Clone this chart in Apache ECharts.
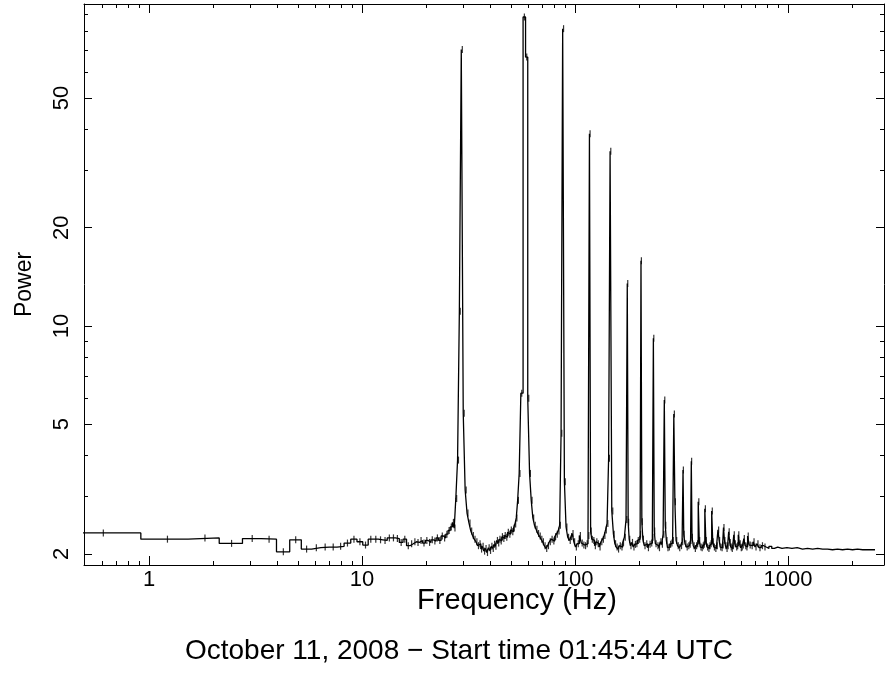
<!DOCTYPE html>
<html>
<head>
<meta charset="utf-8">
<title>Power spectrum</title>
<script src="https://cdn.jsdelivr.net/npm/echarts@6/dist/echarts.min.js"></script>
<style>
  html, body { margin: 0; padding: 0; background: #fff; }
  #chart { width: 887px; height: 675px; }
</style>
</head>
<body>
<div id="chart"></div>
<script>
// bin centre frequencies (Hz) and power
const freq = [
  0.61, 1.22, 1.83, 2.44, 3.05, 3.66, 4.27, 4.88, 5.49, 6.10,
  6.71, 7.32, 7.93, 8.54, 9.16, 9.77, 10.38, 10.99, 11.60, 12.21,
  12.82, 13.43, 14.04, 14.65, 15.26, 15.87, 16.48, 17.09, 17.70, 18.31,
  18.92, 19.53, 20.14, 20.75, 21.36, 21.97, 22.58, 23.19, 23.80, 24.41,
  25.02, 25.63, 26.24, 26.85, 27.3, 27.8, 28.35, 28.9, 29.55, 30.15,
  30.8, 31.4, 32.1, 32.7, 33.3, 33.9, 34.6, 35.2, 35.8, 36.4,
  37.0, 37.6, 38.2, 38.8, 39.5, 40.1, 40.7, 41.3, 41.9, 42.5,
  43.2, 43.8, 44.4, 45.0, 45.6, 46.3, 47.0, 47.8, 48.6, 49.4,
  50.2, 51.0, 51.8, 52.6, 53.3, 54.2, 55.1, 56.2, 57.8, 59.3,
  60.6, 61.7, 62.8, 63.9, 65.0, 66.2, 67.4, 68.6, 69.8, 71.0,
  72.3, 73.6, 75.0, 76.5, 78.0, 79.5, 81.0, 82.5, 84.0, 85.3,
  86.6, 88.3, 89.9, 91.5, 93.2, 94.9, 96.3, 97.8, 99.5, 101.4,
  103.5, 105.9, 108, 110, 112, 114, 116, 117.6, 119, 120.5,
  122.5, 124.5, 126.5, 128.5, 131, 133.5, 135.8, 138, 140.1, 142.5,
  144.9, 147.1, 150.3, 152.5, 154.9, 157.5, 160, 163, 166, 168.8,
  172, 174.9, 176.7, 178.4, 180.5, 183, 186, 189, 192, 195,
  198, 201, 203, 204.8, 206.8, 209.3, 213, 217, 221, 225,
  229, 232, 234.2, 236.4, 240, 245, 249, 253, 257, 261,
  263.7, 266.5, 270, 273, 277, 281, 285, 289, 292.5, 295.8,
  300, 305, 310, 316, 320, 322.4, 325, 331, 336, 342,
  347, 350, 352.5, 355.5, 362, 367, 372, 376, 381, 384.5,
  390, 395, 400, 404, 409, 413, 419, 425, 430, 435,
  440.7, 445, 451, 458, 465, 472, 477, 483, 490, 495,
  500, 505, 511, 517, 523, 529, 535, 541, 547, 553,
  559, 565, 574, 580, 587, 596, 603, 609, 616, 623,
  633, 641, 650, 664, 678, 692, 707, 722, 738, 758,
  779, 800, 826, 850, 875, 913, 960, 1015, 1070, 1138,
  1200, 1268, 1340, 1413, 1490, 1574, 1660, 1754, 1850, 1954,
  2060, 2178, 2300, 2472
];
const power = [
  2.32, 2.22, 2.24, 2.155, 2.23, 2.22, 2.03, 2.21, 2.07, 2.09,
  2.10, 2.10, 2.11, 2.16, 2.22, 2.18, 2.13, 2.22, 2.22, 2.21,
  2.20, 2.24, 2.24, 2.23, 2.17, 2.22, 2.12, 2.15, 2.18, 2.17,
  2.20, 2.16, 2.20, 2.17, 2.21, 2.19, 2.24, 2.20, 2.27, 2.24,
  2.30, 2.36, 2.42, 2.50, 2.40, 2.96, 3.88, 11.1, 70.3, 5.4,
  3.14, 2.67, 2.49, 2.35, 2.28, 2.22, 2.18, 2.12, 2.15, 2.07,
  2.11, 2.04, 2.08, 2.02, 2.09, 2.05, 2.11, 2.08, 2.14, 2.11,
  2.20, 2.16, 2.22, 2.19, 2.26, 2.23, 2.28, 2.25, 2.33, 2.30,
  2.37, 2.34, 2.40, 2.47, 2.58, 2.92, 3.53, 6.22, 88.5, 66.7,
  6.0, 3.53, 2.92, 2.58, 2.45, 2.38, 2.31, 2.27, 2.22, 2.18,
  2.12, 2.08, 2.12, 2.18, 2.22, 2.19, 2.26, 2.30, 2.35, 2.45,
  4.69, 81.5, 3.33, 2.42, 2.25, 2.20, 2.26, 2.31, 2.18, 2.10,
  2.15, 2.28, 2.16, 2.13, 2.12, 2.15, 2.28, 38.8, 2.35, 2.22,
  2.20, 2.12, 2.18, 2.15, 2.10, 2.18, 2.22, 2.28, 2.37, 2.48,
  3.93, 34.3, 2.71, 2.30, 2.15, 2.10, 2.07, 2.12, 2.10, 2.17,
  2.25, 2.55, 13.5, 2.50, 2.22, 2.12, 2.17, 2.10, 2.14, 2.15,
  2.20, 2.22, 2.30, 15.85, 2.51, 2.22, 2.12, 2.15, 2.09, 2.14,
  2.16, 2.25, 9.17, 2.35, 2.15, 2.12, 2.09, 2.18, 2.14, 2.30,
  5.93, 2.45, 2.20, 2.09, 2.10, 2.14, 2.16, 2.20, 5.37, 2.89,
  2.20, 2.12, 2.09, 2.12, 2.18, 3.62, 2.30, 2.15, 2.10, 2.12,
  2.14, 2.20, 3.85, 2.25, 2.12, 2.08, 2.12, 2.15, 2.89, 2.20,
  2.10, 2.09, 2.12, 2.14, 2.75, 2.20, 2.10, 2.08, 2.12, 2.15,
  2.71, 2.18, 2.10, 2.08, 2.12, 2.37, 2.20, 2.10, 2.09, 2.13,
  2.41, 2.20, 2.12, 2.08, 2.12, 2.34, 2.17, 2.10, 2.08, 2.12,
  2.29, 2.15, 2.10, 2.12, 2.29, 2.15, 2.09, 2.10, 2.13, 2.23,
  2.12, 2.10, 2.27, 2.13, 2.12, 2.18, 2.10, 2.15, 2.09, 2.12,
  2.10, 2.08, 2.11, 2.08, 2.10, 2.08, 2.09, 2.08, 2.09, 2.07,
  2.08, 2.07, 2.08, 2.07, 2.07, 2.06, 2.07, 2.06, 2.07, 2.06,
  2.07, 2.06, 2.06, 2.06
];

const xRange = [0.495, 2820];
const yRange = [1.85, 97];
const xMajorTicks = [1, 10, 100, 1000];
const xMinorTicks = [0.6, 0.7, 0.8, 0.9, 2, 3, 4, 5, 6, 7, 8, 9,
  20, 30, 40, 50, 60, 70, 80, 90, 200, 300, 400, 500, 600, 700, 800, 900, 2000];
const yMajorTicks = [2, 5, 10, 20, 50];
const yMinorTicks = [3, 4, 6, 7, 8, 9, 30, 40, 60, 70, 80, 90];
const errorBarBelow = 800; // Hz, error bars drawn on bins below this

const font = "'Liberation Sans', Arial, sans-serif";

// histogram style: flat top over each bin, edges halfway between centres
const steps = [];
freq.forEach((f, i) => {
  const lo = i === 0 ? f - (freq[1] - f) / 2 : (freq[i - 1] + f) / 2;
  const hi = i === freq.length - 1 ? f + (f - freq[i - 1]) / 2 : (f + freq[i + 1]) / 2;
  steps.push([lo, power[i]], [hi, power[i]]);
});
const errMarks = freq.map((f, i) => [f, power[i]]).filter(d => d[0] < errorBarBelow);

function logAxis(range, position, ticks, tickLen, showLine) {
  return {
    type: "log",
    logBase: 10,
    position: position,
    min: range[0],
    max: range[1],
    axisLine: { show: showLine, onZero: false, lineStyle: { color: "#000", width: 1 } },
    axisTick: { show: true, inside: true, length: tickLen, customValues: ticks, lineStyle: { color: "#000", width: 1 } },
    axisLabel: { show: false },
    splitLine: { show: false }
  };
}

function tickLabels(values, extra) {
  return Object.assign({
    show: true,
    customValues: values,
    formatter: v => String(v),
    color: "#000",
    fontSize: 22,
    fontFamily: font
  }, extra);
}

// tight line box so the labels stay clear of the axis title below
const xMain = logAxis(xRange, "bottom", xMajorTicks, 9, true);
xMain.axisLabel = tickLabels(xMajorTicks, { margin: 7, lineHeight: 16 });

const yMain = logAxis(yRange, "left", yMajorTicks, 8, true);
yMain.axisLabel = tickLabels(yMajorTicks, { rotate: 90, margin: 11 });
yMain.name = "Power";
yMain.nameLocation = "middle";
yMain.nameGap = 48;
yMain.nameTextStyle = { color: "#000", fontSize: 23, fontFamily: font };

const chart = echarts.init(document.getElementById("chart"));
chart.setOption({
  animation: false,
  title: [
    {
      text: "October 11, 2008 \u2212 Start time 01:45:44 UTC",
      left: 459,
      top: 637,
      textAlign: "center",
      padding: 0,
      textStyle: { color: "#000", fontSize: 28, fontWeight: "normal", fontFamily: font }
    },
    {
      text: "Frequency (Hz)",
      left: 517,
      top: 591,
      textAlign: "center",
      padding: 0,
      textStyle: { color: "#000", fontSize: 29, lineHeight: 20, fontWeight: "normal", fontFamily: font }
    }
  ],
  grid: { left: 84, right: 3, top: 4, bottom: 110 },
  xAxis: [
    xMain,
    logAxis(xRange, "bottom", xMinorTicks, 4, false),
    logAxis(xRange, "top", xMajorTicks, 9, true),
    logAxis(xRange, "top", xMinorTicks, 4, false)
  ],
  yAxis: [
    yMain,
    logAxis(yRange, "left", yMinorTicks, 4, false),
    logAxis(yRange, "right", yMajorTicks, 8, true),
    logAxis(yRange, "right", yMinorTicks, 4, false)
  ],
  series: [
    {
      type: "line",
      data: steps,
      symbol: "none",
      silent: true,
      lineStyle: { color: "#000", width: 1.3 }
    },
    {
      type: "scatter",
      data: errMarks,
      symbol: "rect",
      symbolSize: [1.2, 7],
      silent: true,
      itemStyle: { color: "#000" }
    }
  ]
});

window.addEventListener("resize", () => chart.resize());
</script>
</body>
</html>
